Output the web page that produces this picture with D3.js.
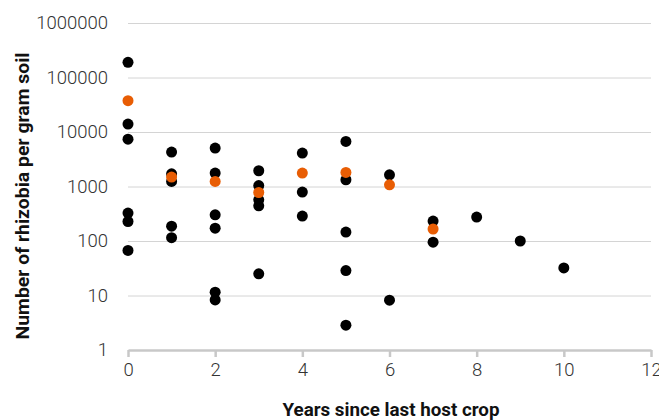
<!DOCTYPE html>
<html>
<head>
<meta charset="utf-8">
<script src="https://cdn.jsdelivr.net/npm/d3@7"></script>
<style>
  body { margin: 0; background: #fff; }
  .tick text { font-family: Roboto, sans-serif; font-weight: 300; fill: #333; }
  .axisTitle { font-family: Roboto, sans-serif; font-weight: 700; fill: #111; }
</style>
</head>
<body>
<div id="chart"></div>
<script>
// each site: years since last host crop, rhizobia per gram soil
const siteYears = [0, 0, 0, 0, 0, 0,
    1, 1, 1, 1, 1,
    2, 2, 2, 2, 2, 2,
    3, 3, 3, 3, 3,
    4, 4, 4,
    5, 5, 5, 5, 5,
    6, 6,
    7, 7,
    8, 9, 10];
const siteCounts = [190000, 14000, 7400, 325, 228, 67,
    4290, 1710, 1240, 187, 115,
    5080, 1760, 302, 172, 11.5, 8.3,
    1945, 1040, 570, 442, 25,
    4100, 790, 287,
    6710, 1330, 146, 28.7, 2.85,
    1640, 8.2,
    232, 95,
    275, 100, 32];

// mean per year
const meanYears = [0, 1, 2, 3, 4, 5, 6, 7];
const meanCounts = [37600, 1490, 1240, 776, 1760, 1810, 1075, 166];

const xTicks = [0, 2, 4, 6, 8, 10, 12];
const yTicks = [1, 10, 100, 1000, 10000, 100000, 1000000];

const width = 659, height = 420;
const margin = {top: 23, right: 8, bottom: 70, left: 128};

const svg = d3.select("#chart")
    .append("svg")
    .attr("width", width)
    .attr("height", height);

const x = d3.scaleLinear()
    .domain([0, 12])
    .range([margin.left, width - margin.right]);

const y = d3.scaleLog()
    .domain([1, 1000000])
    .range([height - margin.bottom, margin.top]);

// horizontal gridlines + y labels
const yAxis = svg.append("g")
    .attr("transform", `translate(${margin.left},0)`)
    .call(d3.axisLeft(y)
        .tickValues(yTicks)
        .tickFormat(d3.format("d"))
        .tickSize(-(width - margin.left - margin.right))
        .tickPadding(20));
yAxis.select(".domain").remove();
yAxis.selectAll(".tick line").attr("stroke", "#d4d4d4").attr("stroke-width", 1);
yAxis.selectAll(".tick text").style("font-size", "18.5px");

// x axis
const xAxis = svg.append("g")
    .attr("transform", `translate(0,${height - margin.bottom})`)
    .call(d3.axisBottom(x)
        .tickValues(xTicks)
        .tickSize(7)
        .tickSizeOuter(0)
        .tickPadding(6));
xAxis.select(".domain").attr("stroke", "#c8c8c8").attr("stroke-width", 2.5);
xAxis.selectAll(".tick line").attr("stroke", "#c8c8c8").attr("stroke-width", 2.5);
xAxis.selectAll(".tick text").style("font-size", "18.5px");

// points
svg.append("g")
    .selectAll("circle")
    .data(siteYears.map((d, i) => ({yr: d, n: siteCounts[i]})))
    .join("circle")
    .attr("cx", d => x(d.yr))
    .attr("cy", d => y(d.n))
    .attr("r", 5.5)
    .attr("fill", "#000");

svg.append("g")
    .selectAll("circle")
    .data(meanYears.map((d, i) => ({yr: d, n: meanCounts[i]})))
    .join("circle")
    .attr("cx", d => x(d.yr))
    .attr("cy", d => y(d.n))
    .attr("r", 5.5)
    .attr("fill", "#e85d04");

// axis titles
svg.append("text")
    .attr("class", "axisTitle")
    .attr("x", 391)
    .attr("y", 416)
    .attr("text-anchor", "middle")
    .style("font-size", "18px")
    .attr("textLength", 217)
    .attr("lengthAdjust", "spacingAndGlyphs")
    .text("Years since last host crop");

svg.append("text")
    .attr("class", "axisTitle")
    .attr("transform", "translate(29,196) rotate(-90)")
    .attr("text-anchor", "middle")
    .style("font-size", "18px")
    .attr("textLength", 287)
    .attr("lengthAdjust", "spacingAndGlyphs")
    .text("Number of rhizobia per gram soil");
</script>
</body>
</html>
